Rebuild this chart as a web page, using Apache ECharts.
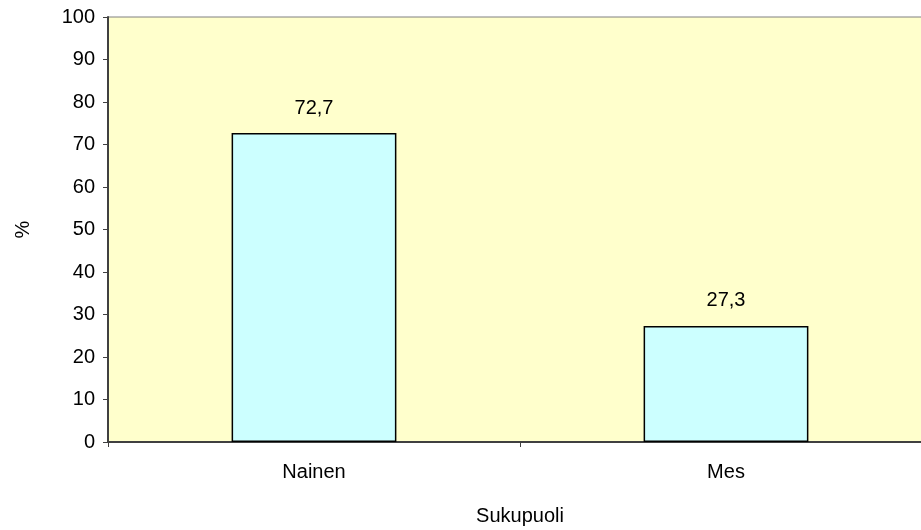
<!DOCTYPE html>
<html><head><meta charset="utf-8">
<script src="https://cdn.jsdelivr.net/npm/echarts@6/dist/echarts.min.js"></script>
<style>html,body{margin:0;padding:0;background:#fff}#c{width:921px;height:530px}</style>
</head><body><div id="c"></div>
<script>
const categories = ['Nainen', 'Mes'];
const values = [72.7, 27.3];
const yTicks = [0, 10, 20, 30, 40, 50, 60, 70, 80, 90, 100];
const xTitle = 'Sukupuoli';
const yTitle = '%';

const font = 'Liberation Sans, Arial, sans-serif';
const fs = 20;
const chart = echarts.init(document.getElementById('c'));
chart.setOption({
  animation: false,
  grid: { left: 108, top: 17, width: 824, height: 425, show: true, backgroundColor: '#FFFFCC', borderColor: '#808080', borderWidth: 1, containLabel: false, outerBoundsMode: 'none' },
  xAxis: {
    type: 'category', data: categories,
    name: xTitle, nameLocation: 'middle', nameGap: 64,
    nameTextStyle: { fontFamily: font, fontSize: fs, color: '#000' },
    axisLine: { lineStyle: { color: '#404040', width: 2 } },
    axisTick: { show: true, length: 5, lineStyle: { color: '#404040' } },
    axisLabel: { fontFamily: font, fontSize: fs, color: '#000', margin: 20 }
  },
  yAxis: {
    type: 'value', min: yTicks[0], max: yTicks[yTicks.length - 1], interval: 10,
    name: yTitle, nameLocation: 'middle', nameGap: 75, nameRotate: 90,
    nameTextStyle: { fontFamily: font, fontSize: fs, color: '#000' },
    axisLine: { show: true, lineStyle: { color: '#404040', width: 2 } },
    axisTick: { show: true, length: 5, lineStyle: { color: '#404040' } },
    splitLine: { show: false },
    axisLabel: { fontFamily: font, fontSize: fs, color: '#000', margin: 13 }
  },
  series: [{
    type: 'bar', data: values, barWidth: '40%',
    itemStyle: { color: '#CCFFFF', borderColor: '#000', borderWidth: 1.5 },
    label: { show: true, position: 'top', distance: 15, fontFamily: font, fontSize: fs, color: '#000',
      formatter: p => p.value.toFixed(1).replace('.', ',') }
  }]
});
</script></body></html>
